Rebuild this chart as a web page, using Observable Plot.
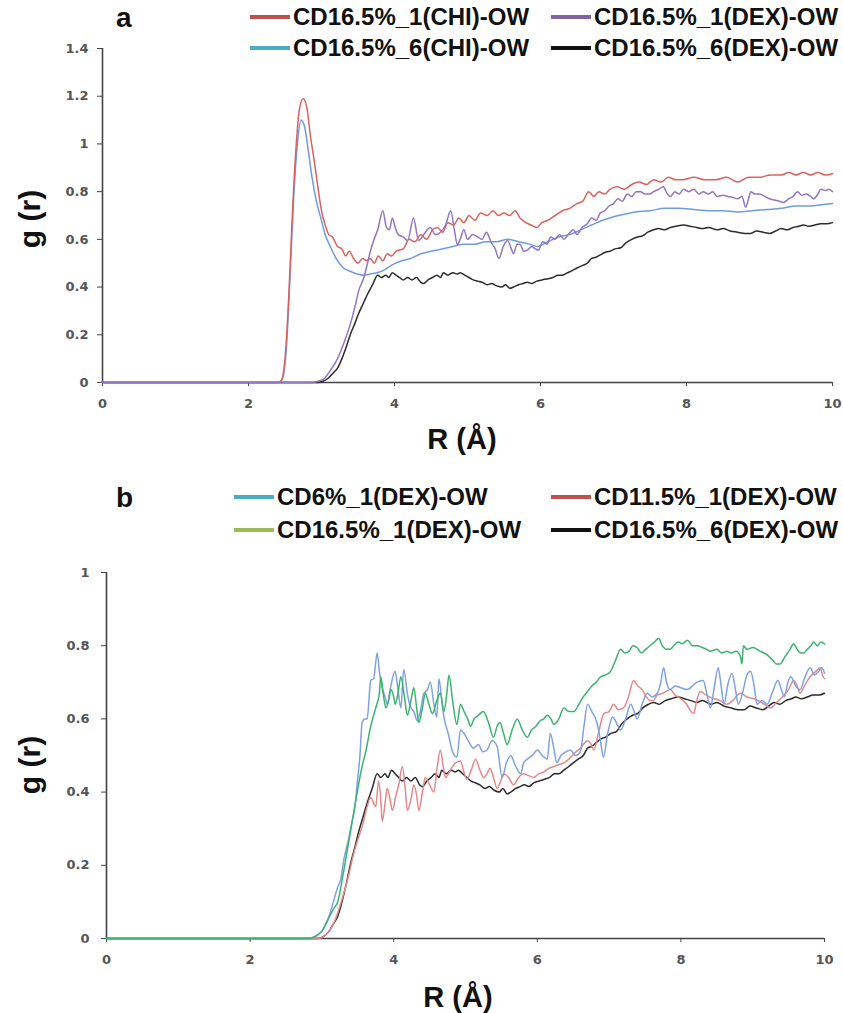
<!DOCTYPE html>
<html>
<head>
<meta charset="utf-8">
<script src="https://cdn.jsdelivr.net/npm/d3@7"></script>
<script src="https://cdn.jsdelivr.net/npm/@observablehq/plot@0.6"></script>
<style>
  html, body { margin: 0; padding: 0; background: #fff; }
  #root { position: relative; width: 843px; height: 1013px; overflow: hidden; font-family: "Liberation Sans", Arial, sans-serif; }
  .tag { position: absolute; font-weight: bold; font-size: 28px; color: #111; line-height: 1; }
  .leg { position: absolute; display: flex; align-items: center; font-weight: bold; font-size: 24px; color: #111; white-space: nowrap; line-height: 1; }
  .sw { display: inline-block; width: 40px; height: 4px; margin-right: 3px; }
</style>
</head>
<body>
<div id="root"></div>
<script>
// ---------------- DATA (r in Å, g(r)) ----------------
const xTicks = [0, 2, 4, 6, 8, 10];
const yTicksA = [0, 0.2, 0.4, 0.6, 0.8, 1, 1.2, 1.4];
const yTicksB = [0, 0.2, 0.4, 0.6, 0.8, 1];

const namesA = ["CD16.5%_1(CHI)-OW", "CD16.5%_1(DEX)-OW", "CD16.5%_6(CHI)-OW", "CD16.5%_6(DEX)-OW"];
const namesB = ["CD6%_1(DEX)-OW", "CD11.5%_1(DEX)-OW", "CD16.5%_1(DEX)-OW", "CD16.5%_6(DEX)-OW"];

const chi1_16 = [[0,0],[2.4,0],[2.45,0.01],[2.5,0.1],[2.55,0.35],[2.6,0.7],[2.65,0.98],[2.7,1.15],[2.75,1.19],[2.8,1.15],[2.85,1.03],[2.9,0.93],[2.95,0.82],[3.0,0.72],[3.05,0.66],[3.1,0.62],[3.15,0.61],[3.22,0.57],[3.28,0.56],[3.33,0.53],[3.38,0.55],[3.44,0.52],[3.5,0.5],[3.56,0.52],[3.62,0.51],[3.67,0.52],[3.72,0.5],[3.78,0.53],[3.84,0.51],[3.9,0.54],[3.96,0.53],[4.02,0.55],[4.12,0.56],[4.2,0.6],[4.28,0.59],[4.36,0.62],[4.44,0.6],[4.52,0.64],[4.59,0.65],[4.66,0.63],[4.73,0.67],[4.81,0.66],[4.88,0.69],[4.95,0.67],[5.02,0.7],[5.1,0.68],[5.18,0.71],[5.27,0.7],[5.35,0.72],[5.42,0.7],[5.5,0.71],[5.58,0.7],[5.65,0.72],[5.72,0.69],[5.8,0.67],[5.87,0.66],[5.95,0.65],[6.02,0.67],[6.1,0.68],[6.2,0.7],[6.3,0.72],[6.4,0.73],[6.5,0.75],[6.58,0.76],[6.66,0.8],[6.73,0.78],[6.8,0.8],[6.88,0.79],[6.95,0.81],[7.05,0.82],[7.15,0.81],[7.25,0.83],[7.35,0.84],[7.45,0.83],[7.55,0.85],[7.65,0.84],[7.75,0.86],[7.85,0.85],[7.95,0.85],[8.1,0.86],[8.25,0.85],[8.4,0.85],[8.55,0.86],[8.7,0.84],[8.85,0.86],[9.0,0.86],[9.15,0.87],[9.3,0.87],[9.4,0.88],[9.5,0.87],[9.6,0.88],[9.7,0.87],[9.8,0.88],[9.9,0.87],[10,0.875]];

const chi6_16 = [[0,0],[2.42,0],[2.47,0.02],[2.52,0.15],[2.57,0.45],[2.62,0.78],[2.67,1.0],[2.72,1.1],[2.77,1.07],[2.82,0.97],[2.87,0.86],[2.93,0.76],[2.99,0.69],[3.05,0.62],[3.12,0.57],[3.2,0.52],[3.3,0.48],[3.4,0.465],[3.49,0.455],[3.58,0.45],[3.67,0.455],[3.76,0.46],[3.85,0.47],[3.95,0.49],[4.1,0.51],[4.22,0.52],[4.36,0.54],[4.5,0.55],[4.65,0.56],[4.8,0.57],[4.95,0.58],[5.1,0.58],[5.25,0.59],[5.4,0.59],[5.55,0.6],[5.7,0.59],[5.85,0.58],[5.96,0.57],[6.1,0.59],[6.25,0.61],[6.4,0.62],[6.55,0.64],[6.7,0.66],[6.85,0.68],[7.0,0.695],[7.15,0.705],[7.3,0.715],[7.5,0.72],[7.7,0.73],[7.9,0.73],[8.1,0.725],[8.3,0.72],[8.5,0.72],[8.7,0.715],[8.9,0.72],[9.1,0.725],[9.3,0.73],[9.5,0.74],[9.7,0.74],[9.85,0.745],[10,0.75]];

const dex1_16a = [[0,0],[2.85,0],[2.95,0.005],[3.05,0.02],[3.12,0.05],[3.22,0.1],[3.3,0.16],[3.4,0.25],[3.46,0.32],[3.51,0.385],[3.58,0.44],[3.63,0.5],[3.67,0.55],[3.72,0.6],[3.77,0.64],[3.84,0.72],[3.89,0.65],[3.93,0.64],[3.97,0.69],[4.01,0.65],[4.05,0.62],[4.12,0.61],[4.18,0.595],[4.26,0.69],[4.33,0.595],[4.4,0.62],[4.49,0.65],[4.56,0.62],[4.63,0.63],[4.7,0.66],[4.77,0.72],[4.82,0.64],[4.86,0.58],[4.9,0.6],[4.95,0.64],[5.0,0.6],[5.07,0.62],[5.14,0.61],[5.2,0.6],[5.26,0.63],[5.32,0.59],[5.38,0.56],[5.43,0.52],[5.49,0.57],[5.55,0.595],[5.6,0.56],[5.63,0.54],[5.68,0.58],[5.72,0.58],[5.77,0.55],[5.82,0.555],[5.88,0.57],[5.93,0.56],[5.97,0.555],[6.03,0.59],[6.09,0.58],[6.14,0.61],[6.2,0.6],[6.26,0.62],[6.32,0.6],[6.38,0.62],[6.45,0.64],[6.5,0.62],[6.57,0.65],[6.64,0.665],[6.7,0.69],[6.76,0.68],[6.82,0.71],[6.88,0.72],[6.94,0.74],[7.0,0.75],[7.06,0.77],[7.12,0.76],[7.19,0.79],[7.25,0.78],[7.31,0.8],[7.37,0.8],[7.43,0.79],[7.5,0.79],[7.55,0.8],[7.62,0.81],[7.68,0.82],[7.74,0.79],[7.78,0.78],[7.84,0.8],[7.9,0.79],[7.96,0.81],[8.03,0.8],[8.1,0.81],[8.17,0.79],[8.23,0.8],[8.3,0.79],[8.36,0.8],[8.42,0.78],[8.5,0.785],[8.57,0.78],[8.64,0.775],[8.7,0.77],[8.76,0.78],[8.81,0.735],[8.85,0.77],[8.88,0.8],[8.94,0.79],[9.0,0.79],[9.07,0.78],[9.14,0.77],[9.2,0.765],[9.27,0.76],[9.33,0.755],[9.4,0.77],[9.46,0.78],[9.52,0.8],[9.58,0.785],[9.64,0.79],[9.7,0.78],[9.74,0.77],[9.8,0.79],[9.84,0.81],[9.9,0.805],[9.95,0.81],[10,0.8]];

const dex6_16 = [[0,0],[2.95,0],[3.02,0.005],[3.1,0.02],[3.16,0.04],[3.22,0.06],[3.28,0.1],[3.34,0.15],[3.4,0.205],[3.46,0.25],[3.51,0.29],[3.57,0.33],[3.63,0.37],[3.7,0.41],[3.77,0.45],[3.82,0.44],[3.88,0.45],[3.92,0.44],[3.97,0.46],[4.02,0.45],[4.07,0.44],[4.12,0.43],[4.18,0.44],[4.24,0.43],[4.3,0.44],[4.36,0.42],[4.4,0.415],[4.46,0.43],[4.52,0.44],[4.58,0.45],[4.63,0.44],[4.67,0.46],[4.73,0.45],[4.8,0.46],[4.86,0.455],[4.9,0.46],[4.96,0.45],[5.02,0.44],[5.08,0.43],[5.14,0.425],[5.2,0.42],[5.27,0.41],[5.33,0.415],[5.4,0.405],[5.47,0.4],[5.52,0.41],[5.58,0.395],[5.63,0.4],[5.7,0.41],[5.76,0.415],[5.82,0.42],[5.88,0.415],[5.95,0.425],[6.02,0.43],[6.1,0.435],[6.17,0.44],[6.24,0.45],[6.3,0.45],[6.37,0.46],[6.44,0.47],[6.5,0.48],[6.57,0.49],[6.64,0.5],[6.7,0.52],[6.76,0.525],[6.82,0.535],[6.88,0.545],[6.95,0.55],[7.02,0.56],[7.1,0.565],[7.17,0.585],[7.25,0.6],[7.33,0.61],[7.4,0.615],[7.47,0.63],[7.55,0.64],[7.62,0.645],[7.7,0.64],[7.78,0.65],[7.86,0.655],[7.96,0.66],[8.05,0.655],[8.14,0.65],[8.22,0.645],[8.3,0.65],[8.42,0.64],[8.5,0.645],[8.6,0.635],[8.7,0.63],[8.8,0.625],[8.88,0.625],[8.96,0.635],[9.05,0.63],[9.14,0.625],[9.22,0.635],[9.3,0.645],[9.38,0.64],[9.46,0.65],[9.54,0.655],[9.6,0.66],[9.68,0.655],[9.76,0.66],[9.84,0.665],[9.92,0.665],[10,0.67]];

const dex1_6 = [[0,0],[2.82,0],[2.9,0.005],[3.0,0.02],[3.08,0.05],[3.16,0.1],[3.22,0.14],[3.26,0.16],[3.31,0.22],[3.37,0.27],[3.42,0.32],[3.46,0.36],[3.49,0.42],[3.53,0.5],[3.56,0.59],[3.6,0.6],[3.63,0.6],[3.68,0.705],[3.72,0.71],[3.77,0.78],[3.8,0.73],[3.84,0.685],[3.88,0.66],[3.91,0.64],[3.95,0.68],[4.02,0.73],[4.06,0.68],[4.1,0.63],[4.14,0.735],[4.19,0.67],[4.23,0.635],[4.28,0.62],[4.33,0.595],[4.38,0.63],[4.42,0.67],[4.47,0.68],[4.51,0.7],[4.56,0.64],[4.6,0.605],[4.63,0.71],[4.67,0.65],[4.7,0.605],[4.76,0.56],[4.82,0.51],[4.88,0.495],[4.93,0.57],[4.98,0.56],[5.04,0.54],[5.11,0.52],[5.18,0.53],[5.24,0.51],[5.3,0.515],[5.37,0.54],[5.44,0.525],[5.51,0.44],[5.57,0.48],[5.63,0.5],[5.7,0.47],[5.77,0.45],[5.81,0.48],[5.86,0.49],[5.93,0.5],[6.0,0.515],[6.07,0.5],[6.14,0.49],[6.18,0.56],[6.23,0.52],[6.27,0.48],[6.33,0.5],[6.4,0.51],[6.46,0.515],[6.53,0.5],[6.6,0.51],[6.65,0.58],[6.7,0.64],[6.76,0.62],[6.83,0.59],[6.88,0.54],[6.92,0.495],[6.98,0.56],[7.05,0.605],[7.1,0.59],[7.16,0.57],[7.23,0.6],[7.3,0.64],[7.35,0.62],[7.39,0.6],[7.46,0.64],[7.53,0.67],[7.6,0.66],[7.67,0.67],[7.72,0.7],[7.76,0.74],[7.8,0.7],[7.85,0.68],[7.92,0.69],[8.0,0.685],[8.09,0.68],[8.16,0.69],[8.22,0.7],[8.31,0.705],[8.36,0.67],[8.41,0.63],[8.46,0.68],[8.52,0.74],[8.56,0.69],[8.6,0.64],[8.65,0.69],[8.71,0.725],[8.76,0.68],[8.8,0.64],[8.87,0.68],[8.92,0.72],[8.97,0.73],[9.02,0.69],[9.06,0.64],[9.13,0.65],[9.2,0.64],[9.27,0.67],[9.35,0.705],[9.4,0.68],[9.44,0.66],[9.49,0.7],[9.53,0.715],[9.6,0.69],[9.66,0.68],[9.72,0.71],[9.8,0.74],[9.86,0.72],[9.92,0.73],[9.96,0.74],[10,0.725]];

const dex1_11 = [[0,0],[2.95,0],[3.02,0.005],[3.1,0.02],[3.16,0.04],[3.22,0.07],[3.3,0.12],[3.37,0.17],[3.44,0.23],[3.5,0.27],[3.55,0.3],[3.58,0.32],[3.63,0.36],[3.68,0.385],[3.72,0.37],[3.75,0.36],[3.79,0.43],[3.82,0.38],[3.84,0.32],[3.88,0.37],[3.91,0.41],[3.95,0.38],[3.98,0.35],[4.03,0.39],[4.07,0.42],[4.12,0.47],[4.16,0.41],[4.19,0.35],[4.24,0.38],[4.28,0.42],[4.32,0.39],[4.35,0.35],[4.4,0.4],[4.44,0.44],[4.5,0.42],[4.56,0.4],[4.6,0.46],[4.65,0.515],[4.69,0.47],[4.72,0.44],[4.79,0.46],[4.86,0.48],[4.93,0.485],[4.97,0.46],[5.02,0.435],[5.08,0.46],[5.14,0.49],[5.2,0.46],[5.25,0.44],[5.3,0.45],[5.34,0.465],[5.39,0.44],[5.44,0.41],[5.49,0.43],[5.53,0.45],[5.6,0.44],[5.67,0.42],[5.74,0.44],[5.81,0.45],[5.88,0.445],[5.95,0.44],[6.02,0.45],[6.09,0.455],[6.16,0.465],[6.23,0.47],[6.3,0.475],[6.37,0.48],[6.44,0.49],[6.51,0.505],[6.6,0.52],[6.7,0.54],[6.75,0.53],[6.79,0.515],[6.85,0.56],[6.93,0.615],[7.0,0.62],[7.06,0.64],[7.13,0.625],[7.2,0.63],[7.27,0.66],[7.34,0.705],[7.4,0.69],[7.46,0.68],[7.52,0.66],[7.57,0.65],[7.62,0.65],[7.67,0.665],[7.75,0.67],[7.85,0.68],[7.92,0.665],[8.0,0.655],[8.08,0.64],[8.14,0.62],[8.18,0.615],[8.22,0.65],[8.27,0.675],[8.35,0.665],[8.46,0.655],[8.55,0.65],[8.64,0.64],[8.72,0.65],[8.83,0.67],[8.92,0.66],[9.02,0.655],[9.12,0.645],[9.2,0.635],[9.25,0.63],[9.33,0.645],[9.44,0.665],[9.5,0.68],[9.57,0.705],[9.62,0.69],[9.66,0.67],[9.72,0.69],[9.8,0.715],[9.88,0.73],[9.94,0.74],[9.97,0.72],[10,0.71]];

const dex1_16b = [[0,0],[2.82,0],[2.9,0.005],[3.0,0.02],[3.08,0.05],[3.16,0.08],[3.22,0.1],[3.3,0.18],[3.37,0.26],[3.44,0.34],[3.51,0.42],[3.56,0.47],[3.61,0.51],[3.68,0.58],[3.75,0.63],[3.8,0.67],[3.82,0.715],[3.86,0.66],[3.89,0.63],[3.93,0.65],[3.96,0.68],[4.0,0.66],[4.02,0.64],[4.06,0.67],[4.1,0.715],[4.15,0.66],[4.19,0.61],[4.24,0.65],[4.28,0.685],[4.32,0.63],[4.35,0.59],[4.4,0.63],[4.44,0.67],[4.49,0.64],[4.54,0.615],[4.6,0.65],[4.65,0.67],[4.7,0.62],[4.74,0.67],[4.77,0.72],[4.82,0.65],[4.88,0.585],[4.93,0.64],[4.98,0.62],[5.03,0.6],[5.07,0.58],[5.12,0.6],[5.18,0.61],[5.25,0.62],[5.32,0.59],[5.39,0.55],[5.44,0.58],[5.48,0.59],[5.53,0.56],[5.58,0.53],[5.65,0.57],[5.72,0.6],[5.79,0.57],[5.86,0.55],[5.92,0.57],[5.98,0.58],[6.04,0.595],[6.09,0.6],[6.14,0.61],[6.19,0.6],[6.23,0.585],[6.3,0.6],[6.37,0.63],[6.44,0.62],[6.51,0.62],[6.58,0.64],[6.64,0.66],[6.7,0.675],[6.76,0.69],[6.82,0.7],[6.88,0.715],[6.95,0.72],[7.02,0.73],[7.09,0.76],[7.16,0.79],[7.22,0.78],[7.28,0.785],[7.33,0.8],[7.39,0.795],[7.45,0.78],[7.51,0.79],[7.57,0.8],[7.63,0.81],[7.69,0.82],[7.74,0.8],[7.8,0.79],[7.85,0.79],[7.9,0.8],[7.96,0.81],[8.02,0.805],[8.09,0.815],[8.16,0.8],[8.23,0.8],[8.3,0.795],[8.36,0.79],[8.41,0.785],[8.5,0.79],[8.57,0.78],[8.64,0.785],[8.7,0.78],[8.77,0.785],[8.83,0.77],[8.85,0.75],[8.87,0.8],[8.92,0.79],[9.0,0.795],[9.1,0.785],[9.2,0.775],[9.28,0.76],[9.33,0.75],[9.38,0.75],[9.45,0.77],[9.52,0.79],[9.57,0.805],[9.62,0.79],[9.67,0.78],[9.71,0.78],[9.76,0.79],[9.81,0.8],[9.85,0.81],[9.9,0.8],[9.95,0.81],[10,0.805]];

// colours: plotted line, legend swatch
const lineColorsA = ["#d9625f", "#9077c0", "#6f9be0", "#2b2b2b"];
const swatchColorsA = ["#c0504d", "#8064a2", "#4bacc6", "#111111"];
const lineColorsB = ["#7ea2e2", "#e38a8a", "#3cb36e", "#2b2b2b"];
const swatchColorsB = ["#4bacc6", "#c0504d", "#9bbb59", "#111111"];

// ---------------- BUILD ----------------
const toRows = (arr, name) => arr.map(([r, g]) => ({r, g, name}));
const seriesA = [toRows(chi1_16, namesA[0]), toRows(dex1_16a, namesA[1]), toRows(chi6_16, namesA[2]), toRows(dex6_16, namesA[3])];
const seriesB = [toRows(dex1_6, namesB[0]), toRows(dex1_11, namesB[1]), toRows(dex1_16b, namesB[2]), toRows(dex6_16, namesB[3])];

const fmt = d => String(+d.toFixed(1));
const tickFont = "DejaVu Sans, sans-serif";

function makePanel({series, colors, yMax, yTicks, height, marginTop, marginBottom, marginLeft, marginRight, drawOrder, yPad}) {
  const marks = [
    Plot.axisY({ticks: yTicks, tickFormat: fmt, tickSize: 5, tickPadding: yPad, label: null, fontSize: 13, fontWeight: "bold", fill: "#555", stroke: "#444", fontFamily: tickFont}),
    Plot.axisX({ticks: xTicks, tickFormat: fmt, tickSize: 4, tickPadding: 12, label: null, fontSize: 13, fontWeight: "bold", fill: "#555", stroke: "#444", fontFamily: tickFont}),
    Plot.ruleX([0], {stroke: "#444", strokeWidth: 1.6}),
    Plot.ruleY([0], {stroke: "#444", strokeWidth: 1.6})
  ];
  for (const i of drawOrder) {
    marks.push(Plot.line(series[i], {x: "r", y: "g", stroke: colors[i], strokeWidth: 1.5, curve: "monotone-x"}));
  }
  return Plot.plot({
    width: 843, height, marginTop, marginBottom, marginLeft, marginRight,
    style: {background: "transparent", overflow: "visible"},
    x: {domain: [0, 10]},
    y: {domain: [0, yMax]},
    marks
  });
}

const root = document.getElementById("root");

function place(el, left, top) { el.style.position = "absolute"; el.style.left = left + "px"; el.style.top = top + "px"; root.appendChild(el); return el; }

function addText(cls, text, left, top, extra = {}) {
  const d = document.createElement("div");
  d.className = cls; d.textContent = text;
  Object.assign(d.style, extra);
  return place(d, left, top);
}
function addLegend(name, color, left, top) {
  const d = document.createElement("div");
  d.className = "leg";
  const s = document.createElement("span"); s.className = "sw"; s.style.background = color;
  d.appendChild(s); d.appendChild(document.createTextNode(name));
  return place(d, left, top);
}

// Panel a
const pa = makePanel({series: seriesA, colors: lineColorsA, yMax: 1.4, yTicks: yTicksA, height: 455, marginTop: 48, marginBottom: 73, marginLeft: 102, marginRight: 11, drawOrder: [3, 2, 0, 1], yPad: 9});
place(pa, 0, 0);
// Panel b
const pb = makePanel({series: seriesB, colors: lineColorsB, yMax: 1, yTicks: yTicksB, height: 553, marginTop: 112, marginBottom: 75, marginLeft: 106, marginRight: 19, drawOrder: [3, 1, 0, 2], yPad: 12});
place(pb, 0, 460);

// axis titles
const rot = {fontSize: "30px", transform: "translate(-50%,-50%) rotate(-90deg)", whiteSpace: "nowrap"};
const hor = {fontSize: "29px", transform: "translate(-50%,-50%)", whiteSpace: "nowrap"};
addText("tag", "g (r)", 30, 219, rot);
addText("tag", "R (Å)", 462, 439, hor);
addText("tag", "g (r)", 30, 765, rot);
addText("tag", "R (Å)", 458, 997, hor);

// panel letters
addText("tag", "a", 116, 4);
addText("tag", "b", 116, 484);

// legends panel a
addLegend(namesA[0], swatchColorsA[0], 250, 5);
addLegend(namesA[1], swatchColorsA[1], 551, 5);
addLegend(namesA[2], swatchColorsA[2], 250, 36);
addLegend(namesA[3], swatchColorsA[3], 551, 36);
// legends panel b
addLegend(namesB[0], swatchColorsB[0], 234, 485);
addLegend(namesB[1], swatchColorsB[1], 551, 485);
addLegend(namesB[2], swatchColorsB[2], 234, 518);
addLegend(namesB[3], swatchColorsB[3], 551, 518);
</script>
</body>
</html>
